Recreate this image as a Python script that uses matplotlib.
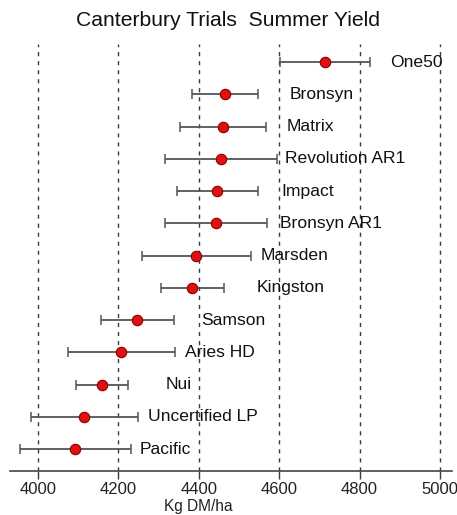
import numpy as np
import matplotlib
matplotlib.use('Agg')
import matplotlib.pyplot as plt

plt.rcParams['font.family'] = ['Liberation Sans', 'DejaVu Sans']

# cultivars, top to bottom
cultivars = ['One50', 'Bronsyn', 'Matrix', 'Revolution AR1', 'Impact', 'Bronsyn AR1',
             'Marsden', 'Kingston', 'Samson', 'Aries HD', 'Nui', 'Uncertified LP', 'Pacific']
# mean yield, kg DM/ha
means = [4715, 4465, 4459, 4454, 4445, 4442, 4394, 4383, 4247, 4206, 4158, 4114, 4092]
# lower / upper ends of the error bars
lower = [4601, 4382, 4353, 4316, 4345, 4315, 4258, 4307, 4157, 4074, 4094, 3982, 3954]
upper = [4825, 4547, 4566, 4595, 4546, 4570, 4531, 4463, 4337, 4340, 4224, 4248, 4232]
xticks = [4000, 4200, 4400, 4600, 4800, 5000]

means = np.array(means)
lower = np.array(lower)
upper = np.array(upper)
ypos = np.arange(len(cultivars), 0, -1)

fig = plt.figure(figsize=(4.57, 5.15), dpi=100)
ax = fig.add_axes([10/457, 1 - 471/515, 442/457, 427/515])

# dashed vertical guide lines
for xt in xticks:
    ax.axvline(xt, color='#3a3a3a', ls=(0, (3, 3.5)), lw=1.0, zorder=1)

ax.errorbar(means, ypos, xerr=[means - lower, upper - means], fmt='none',
            ecolor='#555555', elinewidth=1.3, capsize=3.5, capthick=1.1, zorder=2)
ax.plot(means, ypos, 'o', ms=7.5, mfc='#e01010', mec='#8b0000', mew=0.8, zorder=3)

# labels sit a fixed distance right of the mean
for m, y, name in zip(means, ypos, cultivars):
    ax.text(m + 160, y, name, ha='left', va='center', fontsize=12.6, color='#111111')

ax.set_xlim(3930, 5030)
ax.set_ylim(0.32, 13.56)
ax.set_yticks([])
ax.set_xticks(xticks)
ax.tick_params(axis='x', length=6, width=1, color='#3a3a3a', labelsize=12, labelcolor='#222222', pad=2)
for s in ['top', 'left', 'right']:
    ax.spines[s].set_visible(False)
ax.spines['bottom'].set_color('#444444')
ax.spines['bottom'].set_linewidth(1.2)

fig.text(0.5, 1 - 21/515, 'Canterbury Trials  Summer Yield', ha='center', va='center',
         fontsize=15.2, color='#111111')
fig.text(198/457, 1 - 507/515, 'Kg DM/ha', ha='center', va='center', fontsize=11.2, color='#222222')

fig.savefig('out.png', dpi=100)
